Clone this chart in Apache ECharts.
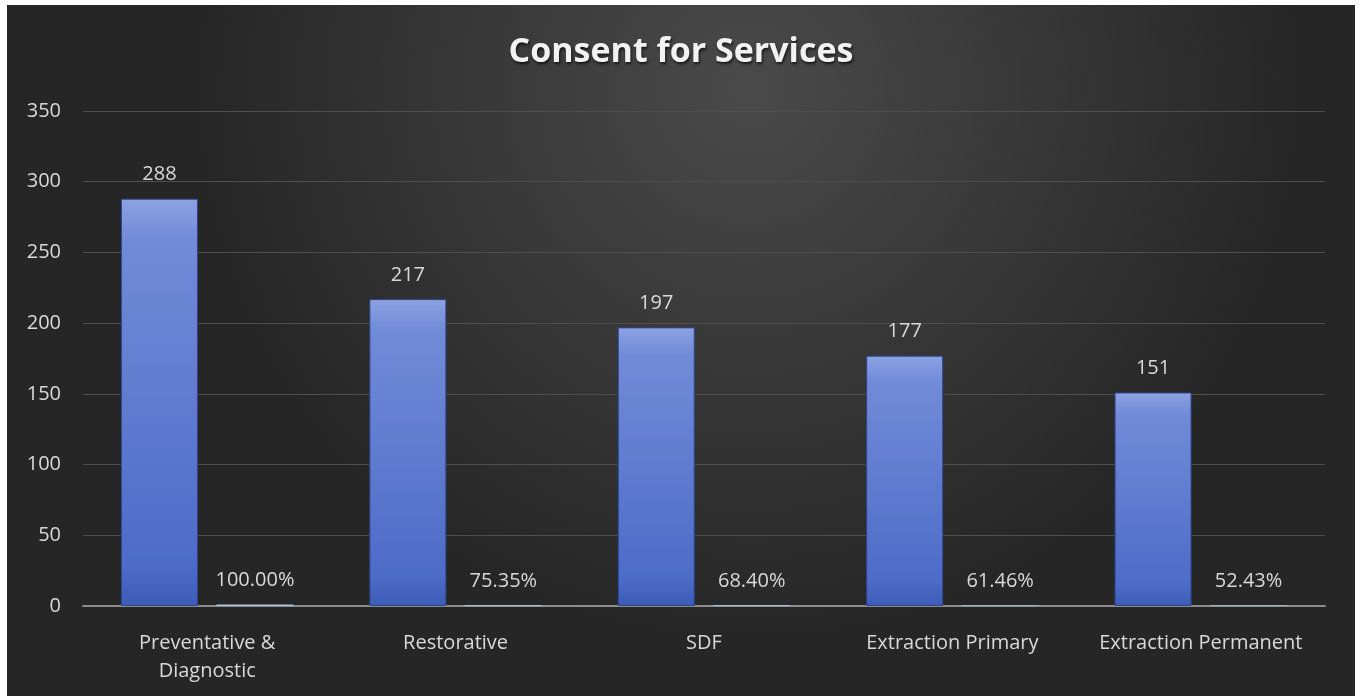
<!DOCTYPE html>
<html>
<head>
<meta charset="utf-8">
<script src="https://cdn.jsdelivr.net/npm/echarts@6/dist/echarts.min.js"></script>
<style>
html, body { margin:0; padding:0; background:#ffffff; width:1362px; height:696px; overflow:hidden; }
#chart { position:absolute; left:7px; top:5px; width:1348px; height:691px; }
</style>
</head>
<body>
<div id="chart"></div>
<script>
const categories = ['Preventative &\nDiagnostic', 'Restorative', 'SDF', 'Extraction Primary', 'Extraction Permanent'];
const counts = [288, 217, 197, 177, 151];
const percents = [1.0, 0.7535, 0.6840, 0.6146, 0.5243];
const yTicks = { min: 0, max: 350, interval: 50 };

const chart = echarts.init(document.getElementById('chart'), null, { renderer: 'canvas' });
const labelColor = '#d9d9d9';
const fontFam = '"Open Sans", sans-serif';

chart.setOption({
  backgroundColor: {
    type: 'radial', x: 0.55, y: 0.12, r: 0.8,
    colorStops: [
      { offset: 0, color: '#4a4a4a' },
      { offset: 0.55, color: '#363636' },
      { offset: 1, color: '#262626' }
    ]
  },
  title: {
    text: 'Consent for Services',
    left: 'center',
    top: 25,
    textStyle: {
      color: '#f2f2f2', fontSize: 34, fontWeight: 'bold', fontFamily: fontFam,
      textShadowColor: 'rgba(0,0,0,0.7)', textShadowBlur: 3, textShadowOffsetX: 1, textShadowOffsetY: 2
    }
  },
  grid: { left: 76, right: 30, top: 106, bottom: 90 },
  xAxis: {
    type: 'category',
    data: categories,
    axisLine: { lineStyle: { color: '#8c8c8c', width: 2 } },
    axisTick: { show: false },
    axisLabel: { color: labelColor, fontSize: 20, fontFamily: fontFam, margin: 23, lineHeight: 28, interval: 0 }
  },
  yAxis: {
    type: 'value',
    min: yTicks.min, max: yTicks.max, interval: yTicks.interval,
    axisLine: { show: false },
    axisTick: { show: false },
    axisLabel: { color: labelColor, fontSize: 20, fontFamily: fontFam, margin: 22 },
    splitLine: { lineStyle: { color: '#4f4f4f', width: 1 } }
  },
  series: [
    {
      name: 'Count',
      type: 'bar',
      data: counts,
      barWidth: 77,
      barGap: '24%',
      itemStyle: {
        color: {
          type: 'linear', x: 0, y: 0, x2: 0, y2: 1,
          colorStops: [
            { offset: 0, color: '#8ca2e2' },
            { offset: 0.1, color: '#728bd8' },
            { offset: 0.9, color: '#4d6cc8' },
            { offset: 1, color: '#3d5cb8' }
          ]
        },
        borderColor: '#2d4590',
        borderWidth: 1
      },
      label: { show: true, position: 'top', distance: 14, color: labelColor, fontSize: 20, fontFamily: fontFam }
    },
    {
      name: 'Percent',
      type: 'bar',
      data: percents,
      barWidth: 77,
      itemStyle: { color: '#a9c3dc' },
      label: {
        show: true, position: 'top', distance: 14, color: labelColor, fontSize: 20, fontFamily: fontFam,
        formatter: p => (p.value * 100).toFixed(2) + '%'
      }
    }
  ]
});
</script>
</body>
</html>
